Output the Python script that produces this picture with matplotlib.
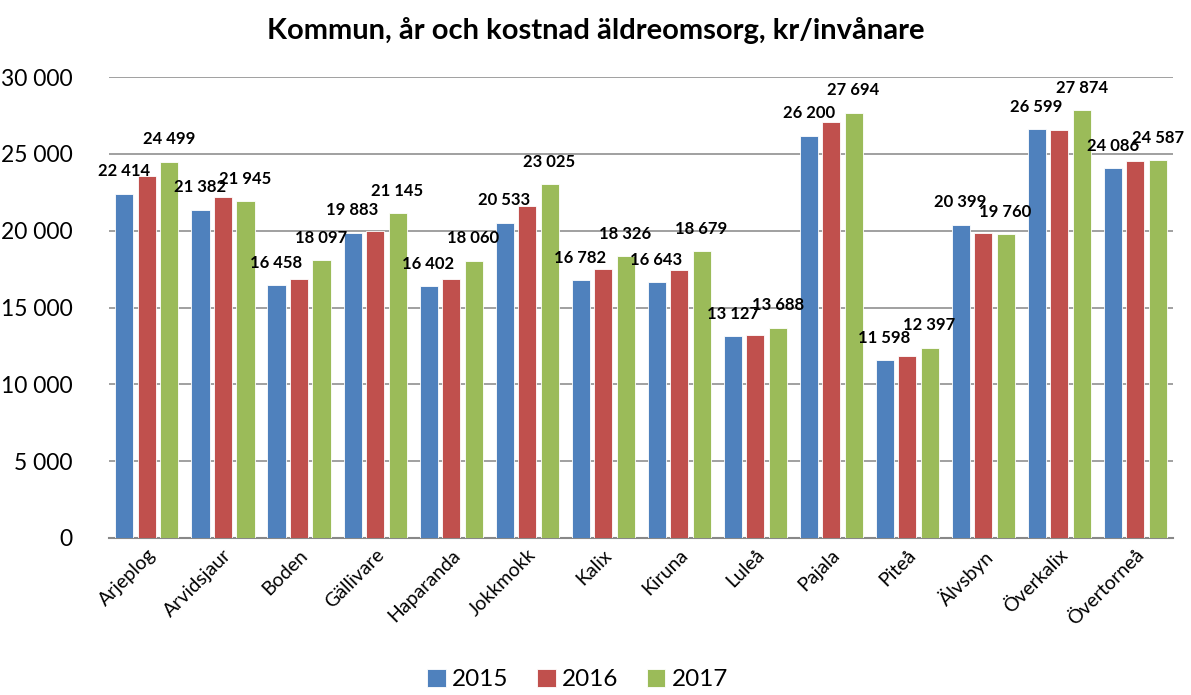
import numpy as np
import matplotlib.pyplot as plt
from matplotlib.ticker import FuncFormatter

kommuner = ['Arjeplog', 'Arvidsjaur', 'Boden', 'Gällivare', 'Haparanda', 'Jokkmokk',
            'Kalix', 'Kiruna', 'Luleå', 'Pajala', 'Piteå', 'Älvsbyn', 'Överkalix', 'Övertorneå']
v2015 = [22414, 21382, 16458, 19883, 16402, 20533, 16782, 16643, 13127, 26200, 11598, 20399, 26599, 24086]
v2016 = [23550, 22190, 16850, 19970, 16850, 21600, 17500, 17440, 13200, 27070, 11850, 19840, 26550, 24530]
v2017 = [24499, 21945, 18097, 21145, 18060, 23025, 18326, 18679, 13688, 27694, 12397, 19760, 27874, 24587]
years = ['2015', '2016', '2017']
colors = ['#4F81BD', '#C0504D', '#9BBB59']

plt.rcParams['font.family'] = ['Lato', 'DejaVu Sans']

fig = plt.figure(figsize=(11.91, 6.95), dpi=100)
ax = fig.add_axes([0.0915, 0.226, 0.8935, 0.663])

x = np.arange(len(kommuner))
w = 0.237
step = 0.296
series = [v2015, v2016, v2017]
for i, (vals, col, yr) in enumerate(zip(series, colors, years)):
    bars = ax.bar(x + (i - 1) * step, vals, w, color=col, edgecolor='white',
                  linewidth=0.6, label=yr, zorder=3)
    if i != 1:
        for b, v in zip(bars, vals):
            ax.annotate(f'{v:,}'.replace(',', ' '),
                        (b.get_x() + b.get_width() / 2, v),
                        xytext=(0, 16), textcoords='offset points',
                        ha='center', va='center', fontsize=12,
                        fontweight='bold', zorder=5)

ax.set_xlim(-0.5, len(kommuner) - 0.5)
ax.set_ylim(0, 30000)
ax.set_yticks(range(0, 30001, 5000))
ax.yaxis.set_major_formatter(FuncFormatter(lambda v, p: f'{int(v):,}'.replace(',', ' ')))
ax.tick_params(axis='y', length=0, labelsize=16.5, pad=26)
ax.tick_params(axis='x', length=0, labelsize=14, pad=6)
ax.set_xticks(x)
ax.set_xticklabels(kommuner, rotation=45, ha='right', rotation_mode='anchor')
ax.grid(axis='y', color='#999999', linewidth=1.3, zorder=0)
for s in ['top', 'right', 'left']:
    ax.spines[s].set_visible(False)
ax.spines['bottom'].set_color('#888888')
ax.spines['bottom'].set_linewidth(1.5)

fig.suptitle('Kommun, år och kostnad äldreomsorg, kr/invånare', x=0.5, y=0.975,
             fontsize=21, fontweight='bold', va='top')
fig.legend(loc='lower center', bbox_to_anchor=(0.485, -0.025), ncol=3, frameon=False,
           fontsize=17.5, handlelength=0.75, handleheight=0.75, handletextpad=0.25,
           columnspacing=1.2)

fig.savefig('out.png', dpi=100)
